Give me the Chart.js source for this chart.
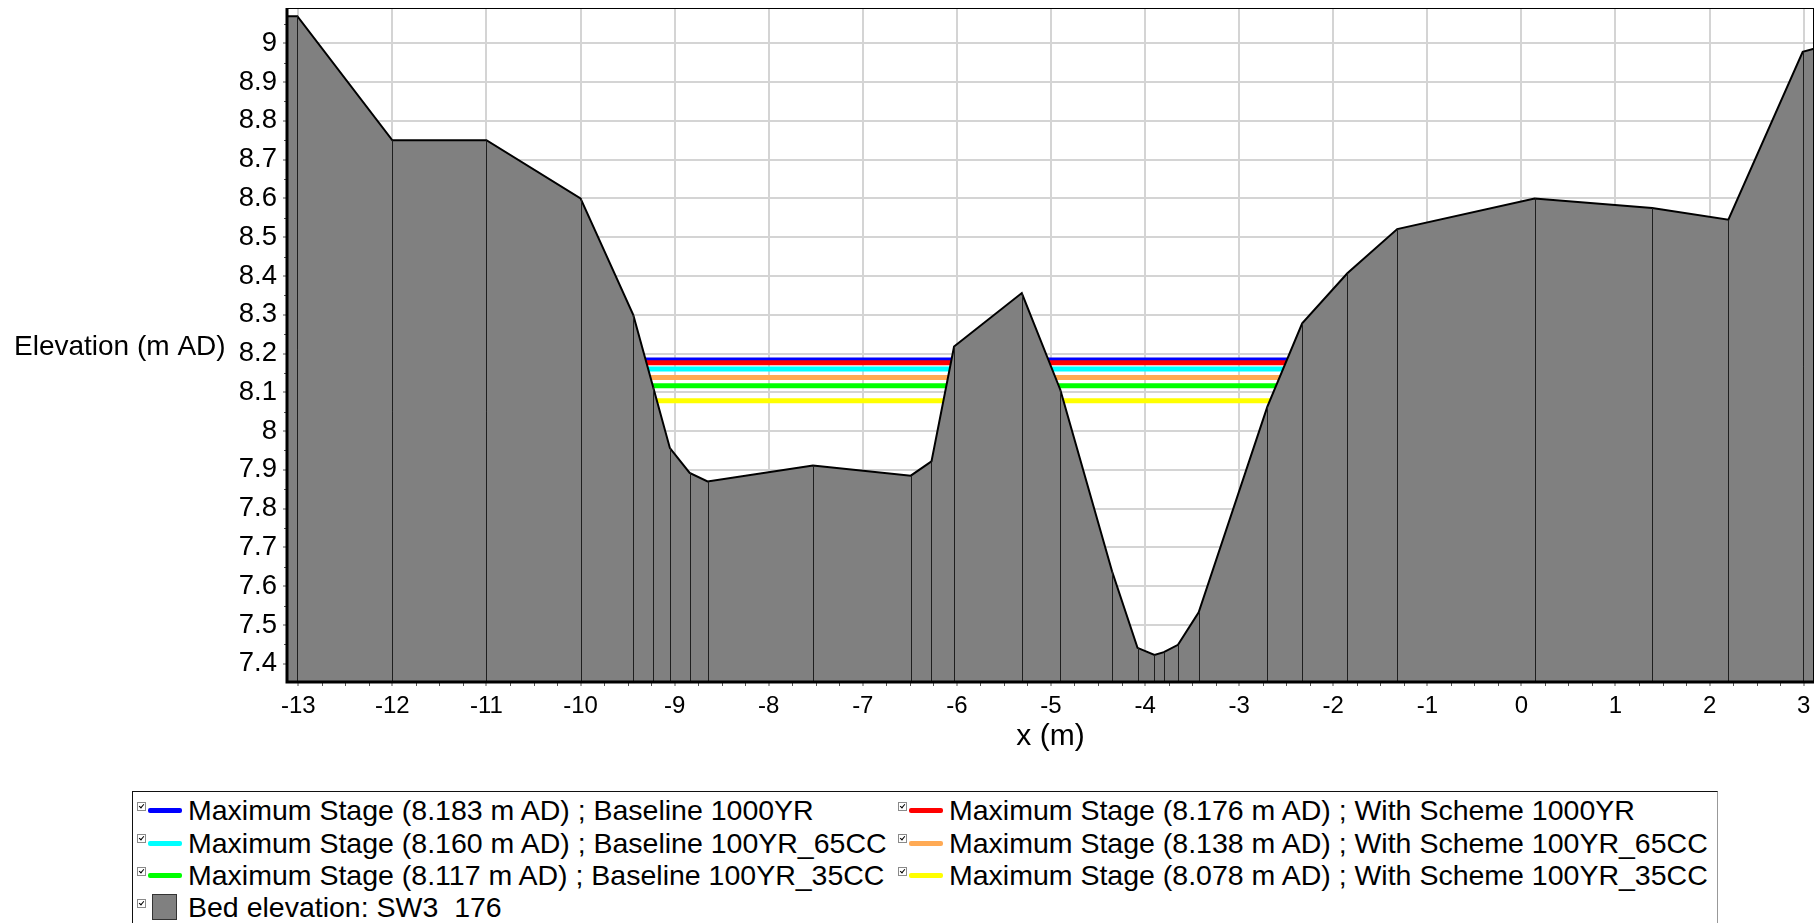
<!DOCTYPE html>
<html>
<head>
<meta charset="utf-8">
<title>Cross section SW3 176</title>
<script src="https://cdn.jsdelivr.net/npm/chart.js@4.4.1/dist/chart.umd.min.js"></script>
<style>
  html, body { margin: 0; padding: 0; background: #fff; overflow: hidden; }
  body { width: 1815px; height: 923px; position: relative; font-family: "Liberation Sans", Arial, sans-serif; }
  #wrap { position: absolute; left: 0; top: 0; width: 1815px; height: 785px; }
  #legend {
    position: absolute; left: 132px; top: 791px; width: 1586px; height: 200px;
    box-sizing: border-box; padding: 2px 0 0 4px;
    border-top: 1px solid #111; border-left: 1px solid #111; border-right: 1px solid #999;
  }
  .row { display: flex; height: 32.4px; }
  .item { display: flex; align-items: center; width: 761px; height: 32.4px; font-size: 28.5px; line-height: 32px; white-space: pre; color: #000; }
  .cb { position: relative; width: 7px; height: 7px; border: 1px solid #8a8a8a; background: #fff; align-self: flex-start; margin-top: 8px; margin-right: 2px; flex: none; }
  .cb::after { content: ''; position: absolute; left: 2px; top: 0px; width: 2px; height: 4px; border-right: 1px solid #000; border-bottom: 1px solid #000; transform: rotate(40deg); }
  .swatch { position: relative; width: 34px; height: 32px; margin-right: 6px; flex: none; }
  .swatch .ln { position: absolute; left: 0; right: 0; top: 14px; height: 5px; border-radius: 2px; }
  .swatch .bx { position: absolute; left: 4px; top: 3px; width: 25px; height: 26px; background: #808080; border: 1px solid #333; box-sizing: border-box; }
</style>
</head>
<body>
<div id="wrap"><canvas id="myChart" width="1815" height="785"></canvas></div>
<div id="legend"></div>
<script>
// bed profile, chainage (m) and elevation (m AD)
const bedX = [-13.12, -13.01, -12.0, -11.0, -10.0, -9.44, -9.23, -9.05, -8.84, -8.65,
  -7.53, -6.49, -6.27, -6.03, -5.31, -4.90, -4.35, -4.08, -3.90, -3.80,
  -3.65, -3.43, -2.70, -2.33, -1.85, -1.32, 0.14, 1.39, 2.20, 2.99, 3.11];
const bedY = [9.07, 9.07, 8.75, 8.75, 8.60, 8.30, 8.115, 7.956, 7.892, 7.870,
  7.911, 7.885, 7.922, 8.218, 8.356, 8.106, 7.638, 7.441, 7.423, 7.430,
  7.449, 7.533, 8.063, 8.278, 8.407, 8.521, 8.600, 8.575, 8.545, 8.978, 8.986];
const bedName = 'Bed elevation: SW3  176';

// maximum stages
const stageNames = ['Baseline 1000YR', 'With Scheme 1000YR',
  'Baseline 100YR_65CC', 'With Scheme 100YR_65CC',
  'Baseline 100YR_35CC', 'With Scheme 100YR_35CC'];
const stageLevels = [8.183, 8.176, 8.160, 8.138, 8.117, 8.078];
const stageColours = ['#0000ff', '#ff0000', '#00ffff', '#ffaa55', '#00ff00', '#ffff00'];
// channel extent the water lines span (bank tops)
const channelX = [-9.44, -2.33];

const xTicks = [-13, -12, -11, -10, -9, -8, -7, -6, -5, -4, -3, -2, -1, 0, 1, 2, 3];
const yTicks = [7.4, 7.5, 7.6, 7.7, 7.8, 7.9, 8, 8.1, 8.2, 8.3, 8.4, 8.5, 8.6, 8.7, 8.8, 8.9, 9];
const xRange = [-13.12, 3.11];
const yRange = [7.353, 9.091];

Chart.defaults.font.family = '"Liberation Sans", Arial, sans-serif';
Chart.defaults.color = '#000';

const stageLabel = (i) => 'Maximum Stage (' + stageLevels[i].toFixed(3) + ' m AD) ; ' + stageNames[i];

let datasets = stageLevels.map((level, i) => ({
  label: stageLabel(i),
  data: channelX.map(x => ({ x: x, y: level })),
  showLine: true,
  borderColor: stageColours[i],
  backgroundColor: stageColours[i],
  borderWidth: 5,
  pointRadius: 0,
  order: 10 - i
}));
datasets.push({
  label: bedName,
  data: bedX.map((x, i) => ({ x: x, y: bedY[i] })),
  showLine: true,
  fill: 'start',
  backgroundColor: '#808080',
  borderColor: '#000',
  borderWidth: 2,
  pointRadius: 0,
  order: 0
});

// thin vertical lines under every bed point
const bedLines = {
  id: 'bedLines',
  afterDatasetsDraw(chart) {
    const { ctx, chartArea, scales: { x, y } } = chart;
    ctx.save();
    ctx.beginPath();
    ctx.rect(chartArea.left, chartArea.top, chartArea.width, chartArea.height);
    ctx.clip();
    ctx.strokeStyle = '#1e1e1e';
    ctx.lineWidth = 1;
    bedX.forEach((v, i) => {
      const px = Math.round(x.getPixelForValue(v)) + 0.5;
      ctx.beginPath();
      ctx.moveTo(px, y.getPixelForValue(bedY[i]));
      ctx.lineTo(px, chartArea.bottom);
      ctx.stroke();
    });
    ctx.restore();
  }
};

// frame, minor ticks and the horizontal y title
const frame = {
  id: 'frame',
  afterDraw(chart) {
    const { ctx, chartArea: a, scales: { x, y } } = chart;
    ctx.save();
    ctx.strokeStyle = '#000';
    ctx.lineWidth = 1;
    ctx.strokeRect(a.left + 0.5, a.top + 0.5, a.width - 1, a.height - 1);

    ctx.strokeStyle = '#555';
    ctx.lineWidth = 1;
    for (let v = -13; v <= 3; v += 0.25) {
      if (Number.isInteger(v)) continue;
      const px = Math.round(x.getPixelForValue(v)) + 0.5;
      ctx.beginPath(); ctx.moveTo(px, a.bottom); ctx.lineTo(px, a.bottom + 4); ctx.stroke();
    }
    for (let k = 0; k < yTicks.length; k++) {
      const py = Math.round(y.getPixelForValue(yTicks[k] + 0.05)) + 0.5;
      if (py < a.top) continue;
      ctx.beginPath(); ctx.moveTo(a.left - 3, py); ctx.lineTo(a.left, py); ctx.stroke();
    }

    ctx.strokeStyle = '#000';
    ctx.lineWidth = 3;
    ctx.beginPath();
    ctx.moveTo(a.left, a.top);
    ctx.lineTo(a.left, a.bottom);
    ctx.lineTo(a.right, a.bottom);
    ctx.stroke();

    ctx.fillStyle = '#000';
    ctx.font = '28px "Liberation Sans", Arial, sans-serif';
    ctx.textAlign = 'left';
    ctx.textBaseline = 'middle';
    ctx.fillText('Elevation (m AD)', 14, (a.top + a.bottom) / 2 + 2);
    ctx.restore();
  }
};

const myChart = new Chart(document.getElementById('myChart'), {
  type: 'scatter',
  data: { datasets: datasets },
  options: {
    responsive: false,
    animation: false,
    layout: { padding: { top: 8, right: 1, bottom: 30, left: 0 } },
    plugins: { legend: { display: false }, tooltip: { enabled: false } },
    elements: { line: { tension: 0 } },
    scales: {
      x: {
        type: 'linear',
        min: xRange[0],
        max: xRange[1],
        afterBuildTicks: s => { s.ticks = xTicks.map(v => ({ value: v })); },
        afterFit: s => { s.height = 73; s.paddingLeft = 0; s.paddingRight = 0; },
        ticks: { font: { size: 24 }, color: '#000', padding: 6, maxRotation: 0, autoSkip: false, callback: v => String(v) },
        grid: { color: '#d4d4d4', lineWidth: 2, tickLength: 4, tickColor: '#555', tickWidth: 1 },
        border: { display: false },
        title: { display: true, text: 'x (m)', font: { size: 30 }, color: '#000', padding: 0 }
      },
      y: {
        type: 'linear',
        min: yRange[0],
        max: yRange[1],
        afterBuildTicks: s => { s.ticks = yTicks.map(v => ({ value: v })); },
        afterFit: s => { s.width = 287; s.paddingTop = 0; s.paddingBottom = 0; },
        ticks: { font: { size: 27.5 }, color: '#000', padding: 6, autoSkip: false, callback: v => String(v) },
        grid: { color: '#d4d4d4', lineWidth: 2, tickLength: 4, tickColor: '#555', tickWidth: 1 },
        border: { display: false }
      }
    }
  },
  plugins: [bedLines, frame]
});

// legend in two columns, like the original
const legend = document.getElementById('legend');
function addItem(row, text, colour, isBed) {
  const item = document.createElement('div');
  item.className = 'item';
  const cb = document.createElement('span');
  cb.className = 'cb';
  const sw = document.createElement('span');
  sw.className = 'swatch';
  const mark = document.createElement('span');
  if (isBed) {
    mark.className = 'bx';
  } else {
    mark.className = 'ln';
    mark.style.background = colour;
  }
  sw.appendChild(mark);
  const label = document.createElement('span');
  label.textContent = text;
  item.appendChild(cb);
  item.appendChild(sw);
  item.appendChild(label);
  row.appendChild(item);
}
for (let i = 0; i < stageLevels.length; i += 2) {
  const row = document.createElement('div');
  row.className = 'row';
  addItem(row, stageLabel(i), stageColours[i], false);
  addItem(row, stageLabel(i + 1), stageColours[i + 1], false);
  legend.appendChild(row);
}
const bedRow = document.createElement('div');
bedRow.className = 'row';
addItem(bedRow, bedName, null, true);
legend.appendChild(bedRow);
</script>
</body>
</html>
